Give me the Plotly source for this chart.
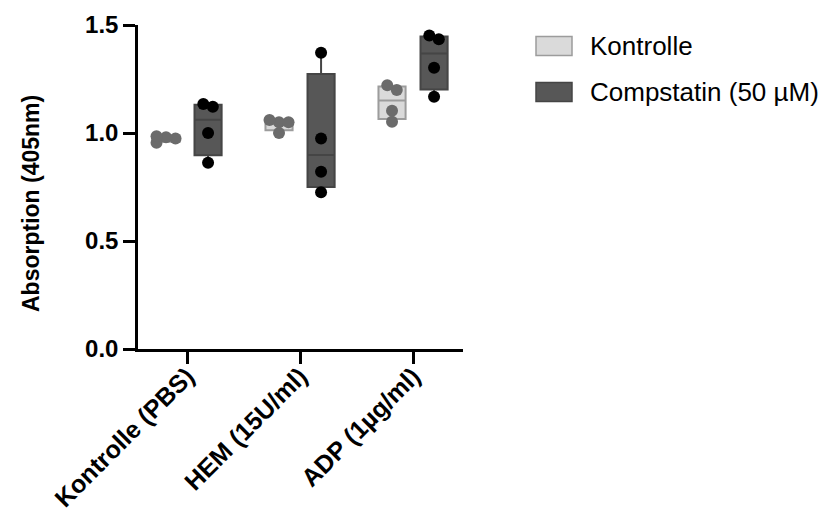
import numpy as np
import plotly.graph_objects as go

# ---- data -------------------------------------------------------------
categories = ["Kontrolle (PBS)", "HEM (15U/ml)", "ADP (1µg/ml)"]
series_names = ["Kontrolle", "Compstatin (50 µM)"]

kontrolle = [
    [0.955, 0.975, 0.980, 0.985],
    [1.000, 1.050, 1.050, 1.060],
    [1.052, 1.103, 1.199, 1.221],
]
compstatin = [
    [0.862, 1.000, 1.122, 1.134],
    [0.726, 0.821, 0.975, 1.372],
    [1.168, 1.302, 1.434, 1.451],
]

y_ticks = [0.0, 0.5, 1.0, 1.5]
y_title = "Absorption (405nm)"

# ---- style ------------------------------------------------------------
W, H = 823, 512
M_L, M_R, M_T, M_B = 138, 360, 25, 163
PLOT_W = W - M_L - M_R
PLOT_H = H - M_T - M_B
X_RANGE = [-0.434, 2.442]
Y_RANGE = [0.0, 1.5]
GROUP_OFFSET = 0.186
BOX_WIDTH = 0.24
DOT_PX = 12
FONT = "Liberation Sans, Arial, sans-serif"

styles = [
    dict(fill="#dadada", line="#9c9c9c", dot="#6b6b6b"),
    dict(fill="#575757", line="#454545", dot="#000000"),
]

px_per_y = PLOT_H / (Y_RANGE[1] - Y_RANGE[0])
px_per_x = PLOT_W / (X_RANGE[1] - X_RANGE[0])
dot_dx = 9.5 / px_per_x


def quartiles(v):
    # (n+1)-based percentiles, the usual method of lab statistics software
    q1, med, q3 = np.percentile(v, [25, 50, 75], method="weibull")
    return q1, med, q3


def swarm_offsets(values):
    """Spread dots that sit at nearly the same height into centred rows."""
    v = np.asarray(values, dtype=float)
    order = np.argsort(-v)
    rows = []
    for i in order:
        if rows and (v[rows[-1][0]] - v[i]) * px_per_y < 6:
            rows[-1].append(i)
        else:
            rows.append([i])
    offs = np.zeros(len(v))
    prev = None
    for row in rows:
        n = len(row)
        if n == 1 and prev is not None and len(prev) > 1:
            prev_mean = np.mean(v[prev])
            if (prev_mean - v[row[0]]) * px_per_y < 0.9 * DOT_PX:
                offs[row[0]] = -(len(prev) - 1) / 2 * dot_dx
                prev = row
                continue
        for k, i in enumerate(row):
            offs[i] = (k - (n - 1) / 2) * dot_dx
        prev = row
    return offs


fig = go.Figure()

all_series = [kontrolle, compstatin]
for s, (name, data) in enumerate(zip(series_names, all_series)):
    st = styles[s]
    shift = -GROUP_OFFSET if s == 0 else GROUP_OFFSET
    xs = [i + shift for i in range(len(categories))]
    stats = [quartiles(d) for d in data]
    fig.add_trace(go.Box(
        name=name,
        x=xs,
        q1=[q[0] for q in stats],
        median=[q[1] for q in stats],
        q3=[q[2] for q in stats],
        lowerfence=[min(d) for d in data],
        upperfence=[max(d) for d in data],
        width=BOX_WIDTH,
        whiskerwidth=0,
        fillcolor=st["fill"],
        line=dict(color=st["line"], width=2),
        boxpoints=False,
        showlegend=False,
        hoverinfo="skip",
    ))

for s, (name, data) in enumerate(zip(series_names, all_series)):
    st = styles[s]
    shift = -GROUP_OFFSET if s == 0 else GROUP_OFFSET
    px, py = [], []
    for i, d in enumerate(data):
        offs = swarm_offsets(d)
        px.extend(i + shift + offs)
        py.extend(d)
    fig.add_trace(go.Scatter(
        x=px, y=py, mode="markers", name=name, showlegend=False,
        marker=dict(color=st["dot"], size=DOT_PX, line=dict(width=0)),
        cliponaxis=False,
    ))


# ---- legend drawn as swatches + labels --------------------------------
def paper_x(p):
    return (p - M_L) / PLOT_W


def paper_y(p):
    return 1 - (p - M_T) / PLOT_H


legend_rows = [46, 92]
for s, name in enumerate(series_names):
    yc = legend_rows[s]
    st = styles[s]
    fig.add_shape(
        type="rect", xref="paper", yref="paper",
        x0=paper_x(536), x1=paper_x(572),
        y0=paper_y(yc - 9.5), y1=paper_y(yc + 9.5),
        fillcolor=st["fill"], line=dict(color=st["line"], width=1.5),
    )
    fig.add_annotation(
        xref="paper", yref="paper", x=paper_x(588), y=paper_y(yc),
        text=name, showarrow=False, xanchor="left", yanchor="middle",
        font=dict(family=FONT, size=26, color="#000"),
    )

# y-axis title
fig.add_annotation(
    xref="paper", yref="paper", x=paper_x(31), y=paper_y(204),
    text=f"<b>{y_title}</b>", textangle=-90, showarrow=False,
    xanchor="center", yanchor="middle",
    font=dict(family=FONT, size=23, color="#000"),
)

axis_common = dict(
    showline=True, linecolor="#000", linewidth=2.5,
    ticks="outside", ticklen=12, tickwidth=2.5, tickcolor="#000",
    showgrid=False, zeroline=False,
)

fig.update_layout(
    width=W, height=H,
    margin=dict(l=M_L, r=M_R, t=M_T, b=M_B, autoexpand=False),
    paper_bgcolor="white", plot_bgcolor="white",
    font=dict(family=FONT, color="#000"),
    xaxis=dict(
        range=X_RANGE, tickvals=list(range(len(categories))),
        ticktext=[f"<b>{c}</b>" for c in categories], tickangle=-45,
        tickfont=dict(size=25, family=FONT), ticklabelstandoff=-12,
        **axis_common,
    ),
    yaxis=dict(
        range=Y_RANGE, tickvals=y_ticks, tickformat=".1f",
        tickfont=dict(size=24, family=FONT, weight="bold"),
        **axis_common,
    ),
)

fig.write_html("out.html")
